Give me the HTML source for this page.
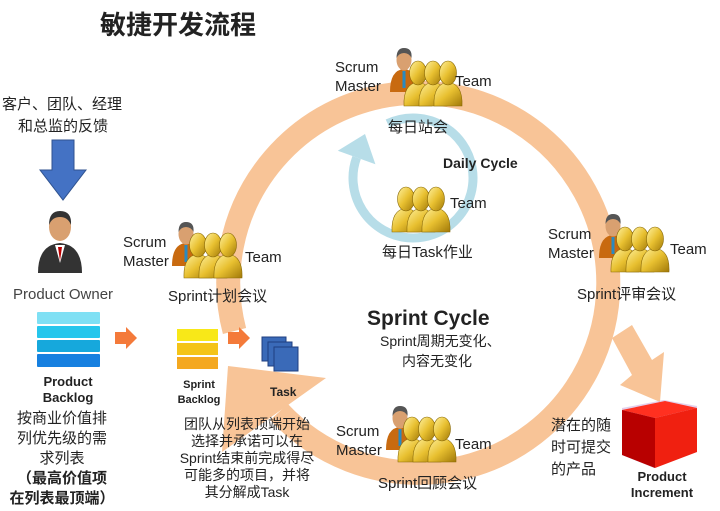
<!DOCTYPE html>
<html><head><meta charset="utf-8"><style>
html,body{margin:0;padding:0;background:#fff;}
svg{display:block;font-family:"Liberation Sans","Noto Sans CJK SC",sans-serif;}
.t{font-size:15px;fill:#222;}
.s{font-size:14px;fill:#222;}
.b{font-weight:bold;fill:#222;}
</style></head><body>
<svg width="720" height="511" viewBox="0 0 720 511" xmlns="http://www.w3.org/2000/svg">
<defs>
  <linearGradient id="yg" x1="0" y1="0" x2="1" y2="1">
    <stop offset="0" stop-color="#fff2a0"/><stop offset="0.5" stop-color="#e8c030"/><stop offset="1" stop-color="#a07808"/>
  </linearGradient>
  <g id="fig">
    <path d="M-14,42 Q-15,20 0,18 Q15,20 14,42 Z" fill="url(#yg)" stroke="#8a6a08" stroke-width="0.6"/>
    <ellipse cx="0" cy="9" rx="8.5" ry="12" fill="url(#yg)" stroke="#8a6a08" stroke-width="0.6"/>
  </g>
  <g id="team">
    <use href="#fig" x="0" y="0"/><use href="#fig" x="15" y="0"/><use href="#fig" x="30" y="0"/>
  </g>
  <g id="master">
    <path d="M-14,40 Q-14,18 0,17 Q14,18 14,40 Z" fill="#c86a10"/>
    <rect x="-1.5" y="19" width="3" height="17" fill="#2a8ac0"/>
    <ellipse cx="0" cy="8" rx="7.5" ry="10.5" fill="#d9a070"/>
    <path d="M-7.5,6 Q-7.5,-4 0,-4 Q8.5,-4 7.5,6 Q5,1 0,1 Q-5,1 -7.5,6Z" fill="#555"/>
  </g>
</defs>

<!-- Sprint cycle ring -->
<path d="M234.5,331 A190,190 0 1 1 279,412" fill="none" stroke="#f8c497" stroke-width="24"/>
<polygon points="228,366 326,378 222,452" fill="#f8c497"/>
<!-- branch arrow to product increment -->
<polygon points="612,338 632,325 652,360 664,352 660,402 620,385 632,375" fill="#f8c497"/>

<!-- daily cycle -->
<path d="M387.6,123.6 A60,60 0 1 1 356.6,157.5" fill="none" stroke="#b7dde8" stroke-width="9"/>
<polygon points="365,134 337.8,150.7 375.4,164.3" fill="#b7dde8"/>

<!-- title -->
<text x="100" y="34" font-size="26" class="b" fill="#111">敏捷开发流程</text>

<!-- left column -->
<text x="2" y="109" class="t">客户、团队、经理</text>
<text x="18" y="131" class="t">和总监的反馈</text>
<polygon points="52,140 74,140 74,170 86,170 63,200 40,170 52,170" fill="#4472c4" stroke="#2f528f" stroke-width="1"/>
<g transform="translate(60,215)">
  <path d="M-22,58 Q-22,30 0,28 Q22,30 22,58 Z" fill="#333"/>
  <polygon points="-5,30 5,30 0,48" fill="#fff"/>
  <polygon points="-2,32 2,32 0,46" fill="#b00"/>
  <ellipse cx="0" cy="12" rx="11" ry="14" fill="#d9a070"/>
  <path d="M-11,10 Q-11,-4 0,-4 Q12,-4 11,10 Q8,2 0,2 Q-8,2 -11,10Z" fill="#333"/>
</g>
<text x="13" y="299" class="t" style="fill:#444">Product Owner</text>
<rect x="37" y="312" width="63" height="12" fill="#7fe0f4" rx="1"/>
<rect x="37" y="326" width="63" height="12" fill="#26c6ec" rx="1"/>
<rect x="37" y="340" width="63" height="12" fill="#16a8dc" rx="1"/>
<rect x="37" y="354" width="63" height="13" fill="#1680e0" rx="1"/>
<polygon points="115,332 126,332 126,327 137,338 126,349 126,344 115,344" fill="#f47a3a"/>
<text x="68" y="386" font-size="13" class="b" text-anchor="middle">Product</text>
<text x="68" y="402" font-size="13" class="b" text-anchor="middle">Backlog</text>
<g class="t" text-anchor="middle" font-size="16">
<text x="62" y="423">按商业价值排</text>
<text x="62" y="443">列优先级的需</text>
<text x="62" y="463">求列表</text>
<text x="62" y="483" class="b">（最高价值项</text>
<text x="62" y="503" class="b">在列表最顶端）</text>
</g>

<!-- sprint backlog -->
<rect x="177" y="329" width="41" height="12" fill="#f8e818"/>
<rect x="177" y="343" width="41" height="12" fill="#f4c418"/>
<rect x="177" y="357" width="41" height="12" fill="#f4a820"/>
<polygon points="228,332 239,332 239,327 250,338 239,349 239,344 228,344" fill="#f47a3a"/>
<text x="199" y="388" font-size="11" class="b" text-anchor="middle">Sprint</text>
<text x="199" y="403" font-size="11" class="b" text-anchor="middle">Backlog</text>
<rect x="262" y="337" width="24" height="24" fill="#3a6ab8" stroke="#1f3f80"/>
<rect x="268" y="342" width="24" height="24" fill="#3a6ab8" stroke="#1f3f80"/>
<rect x="274" y="347" width="24" height="24" fill="#3a6ab8" stroke="#1f3f80"/>
<text x="270" y="396" font-size="12" class="b">Task</text>
<g class="s" text-anchor="middle">
<text x="247" y="429">团队从列表顶端开始</text>
<text x="247" y="446">选择并承诺可以在</text>
<text x="247" y="463">Sprint结束前完成得尽</text>
<text x="247" y="480">可能多的项目，并将</text>
<text x="247" y="497">其分解成Task</text>
</g>

<!-- people groups -->
<use href="#master" x="404" y="52"/><use href="#team" x="418" y="64"/>
<text x="335" y="72" class="t">Scrum</text><text x="335" y="91" class="t">Master</text>
<text x="455" y="86" class="t">Team</text>
<text x="388" y="132" class="t">每日站会</text>

<use href="#team" x="406" y="190"/>
<text x="450" y="208" class="t">Team</text>
<text x="382" y="257" class="t">每日Task作业</text>

<use href="#master" x="613" y="218"/><use href="#team" x="625" y="230"/>
<text x="548" y="239" class="t">Scrum</text><text x="548" y="258" class="t">Master</text>
<text x="670" y="254" class="t">Team</text>
<text x="577" y="299" class="t">Sprint评审会议</text>

<use href="#master" x="186" y="226"/><use href="#team" x="198" y="236"/>
<text x="123" y="247" class="t">Scrum</text><text x="123" y="266" class="t">Master</text>
<text x="245" y="262" class="t">Team</text>
<text x="168" y="301" class="t">Sprint计划会议</text>

<use href="#master" x="400" y="410"/><use href="#team" x="412" y="420"/>
<text x="336" y="436" class="t">Scrum</text><text x="336" y="455" class="t">Master</text>
<text x="455" y="449" class="t">Team</text>
<text x="378" y="488" class="t">Sprint回顾会议</text>

<!-- center text -->
<text x="367" y="325" font-size="21" class="b">Sprint Cycle</text>
<text x="380" y="346" class="s">Sprint周期无变化、</text>
<text x="402" y="366" class="s">内容无变化</text>
<text x="443" y="168" font-size="14" class="b">Daily Cycle</text>

<!-- product increment -->
<text x="551" y="430" class="t">潜在的随</text>
<text x="551" y="452" class="t">时可提交</text>
<text x="551" y="474" class="t">的产品</text>
<polygon points="622,408 664,400 697,406 697,452 654,468 622,455" fill="#c8a0d8" opacity="0.5"/>
<polygon points="622,410 665,401 697,408 655,418" fill="#ff3020"/>
<polygon points="622,410 655,418 655,468 622,455" fill="#b80000"/>
<polygon points="655,418 697,408 697,452 655,468" fill="#f02010"/>
<text x="662" y="481" font-size="13" class="b" text-anchor="middle">Product</text>
<text x="662" y="497" font-size="13" class="b" text-anchor="middle">Increment</text>
</svg>
</body></html>
